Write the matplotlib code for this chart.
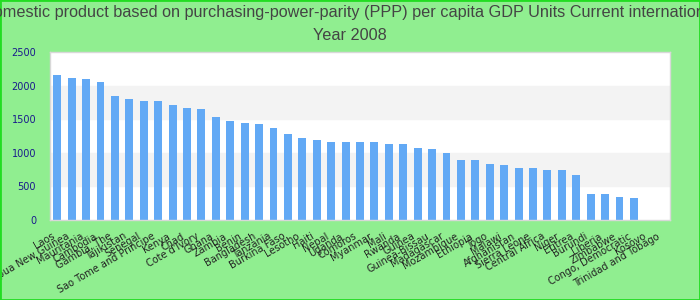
import numpy as np
import matplotlib
matplotlib.use("Agg")
import matplotlib.pyplot as plt
from matplotlib.patches import Rectangle
from matplotlib.transforms import ScaledTranslation

countries = [
    "Laos", "Papua New Guinea", "Mauritania", "Cambodia", "Gambia, The",
    "Tajikistan", "Senegal", "Sao Tome and Principe", "Kenya", "Chad",
    "Cote d'Ivory", "Ghana", "Zambia", "Benin", "Bangladesh", "Tanzania",
    "Burkina Faso", "Lesotho", "Haiti", "Nepal", "Uganda", "Comoros",
    "Myanmar", "Mali", "Rwanda", "Guinea", "Guinea-Bissau", "Madagascar",
    "Mozambique", "Ethiopia", "Togo", "Malawi", "Afghanistan",
    "Sierra Leone", "Central Africa", "Niger", "Eritrea", "Burundi",
    "Liberia", "Zimbabwe", "Congo, Democratic", "Kosovo",
    "Trinidad and Tobago",
]
gdp_ppp = [
    2153, 2109, 2094, 2050, 1842, 1797, 1767, 1767, 1708, 1663,
    1649, 1530, 1470, 1441, 1426, 1366, 1277, 1218, 1188, 1158,
    1158, 1158, 1158, 1129, 1129, 1069, 1054, 995, 891, 891,
    832, 817, 772, 772, 743, 743, 668, 386, 386, 342,
    327, np.nan, np.nan,
]

title_1 = ("Gross domestic product based on purchasing-power-parity (PPP) "
           "per capita GDP Units Current international dollar")
title_2 = "Year 2008"

fig = plt.figure(figsize=(7, 3), dpi=100, facecolor="#90ee90")
ax = fig.add_axes([50 / 700, 80 / 300, 620 / 700, 168 / 300])
ax.set_facecolor("white")

# alternating background bands
for lo, hi in [(500, 1000), (1500, 2000)]:
    ax.axhspan(lo, hi, color="#f3f3f3", zorder=0)

x = np.arange(len(countries))
ax.bar(x, gdp_ppp, width=0.55, color="#62a9f5", zorder=2)

ax.set_xlim(-0.5, len(countries) - 0.5)
ax.set_ylim(0, 2500)
ax.set_yticks([0, 500, 1000, 1500, 2000, 2500])
ax.tick_params(axis="y", length=0, pad=10, labelsize=7, labelcolor="#1a1a8c")
ax.tick_params(axis="x", length=0, pad=8)
ax.set_xticks(x)
ax.set_xticklabels(countries, rotation=30, ha="right", rotation_mode="anchor",
                   fontsize=7.0, color="#222222")
# nudge the rotated labels a little to the left
shift = ScaledTranslation(-6 / 100, 0, fig.dpi_scale_trans)
for lab in ax.get_xticklabels():
    lab.set_transform(lab.get_transform() + shift)

for s in ax.spines.values():
    s.set_color("#d8d8d8")
    s.set_linewidth(1)

fig.text(0.5, 1 - 13 / 300, title_1, ha="center", va="center", fontsize=11.7,
         color="#444444", family="Liberation Sans")
fig.text(0.5, 1 - 36 / 300, title_2, ha="center", va="center", fontsize=11.7,
         color="#444444", family="Liberation Sans")

# bright green border round the image
fig.patches.append(Rectangle((0, 0), 1, 1, transform=fig.transFigure,
                             fill=False, edgecolor="#22dd22", linewidth=2))

fig.savefig("out.png", dpi=100, facecolor=fig.get_facecolor())
plt.close(fig)
